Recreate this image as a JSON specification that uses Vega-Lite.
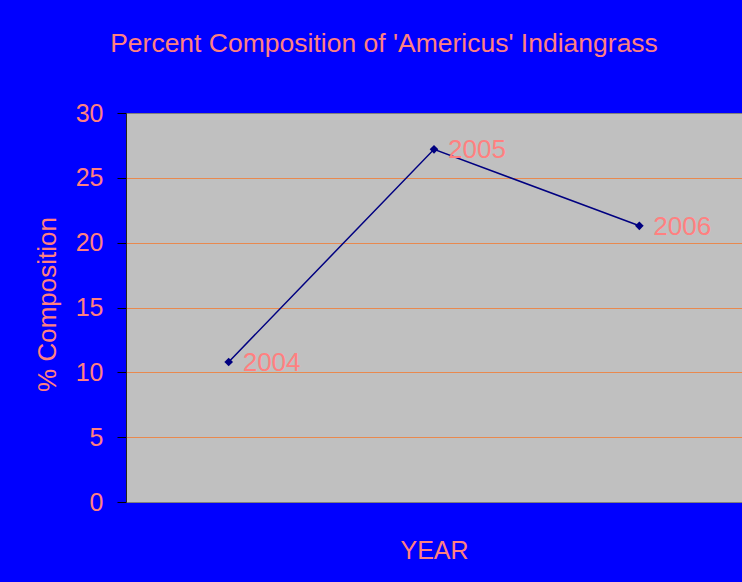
{
  "$schema": "https://vega.github.io/schema/vega-lite/v6.json",
  "autosize": {"type": "none"},
  "width": 616,
  "height": 389,
  "padding": {"left": 126, "top": 113, "right": 0, "bottom": 80},
  "background": "#0000FF",
  "title": {
    "text": "Percent Composition of 'Americus' Indiangrass",
    "font": "Liberation Sans",
    "fontSize": 26.5,
    "fontWeight": "normal",
    "color": "#FF8080",
    "anchor": "middle",
    "frame": "group",
    "baseline": "alphabetic",
    "offset": 23,
    "dx": -50
  },
  "config": {
    "view": {"fill": "#C0C0C0", "stroke": "#808080", "strokeWidth": 1},
    "axis": {
      "labelFont": "Liberation Sans",
      "titleFont": "Liberation Sans",
      "labelColor": "#FF8080",
      "titleColor": "#FF8080",
      "titleFontWeight": "normal"
    }
  },
  "data": {
    "values": [
      {"year": "2004", "composition": 10.8},
      {"year": "2005", "composition": 27.2},
      {"year": "2006", "composition": 21.3}
    ]
  },
  "encoding": {
    "x": {
      "field": "year",
      "type": "ordinal",
      "scale": {"type": "point", "padding": 0.5},
      "axis": {
        "title": "YEAR",
        "labels": false,
        "ticks": false,
        "domain": false,
        "grid": false,
        "titleFontSize": 25,
        "titleBaseline": "alphabetic",
        "titleX": 308,
        "titleY": 56,
        "titleAlign": "center"
      }
    },
    "y": {
      "field": "composition",
      "type": "quantitative",
      "scale": {"domain": [0, 30], "nice": false, "zero": true},
      "axis": {
        "title": "% Composition",
        "values": [0, 5, 10, 15, 20, 25, 30],
        "labelFontSize": 25,
        "labelPadding": 14,
        "labelBaseline": "middle",
        "tickSize": 9,
        "tickColor": "#000000",
        "tickWidth": 1,
        "domainColor": "#222222",
        "domainWidth": 1,
        "grid": true,
        "gridColor": {"condition": {"test": "datum.value == 0 || datum.value == 30", "value": "#808080"}, "value": "#E8894F"},
        "gridWidth": 1,
        "gridOpacity": 1,
        "titleFontSize": 26,
        "titleAngle": -90,
        "titleBaseline": "alphabetic",
        "titleAlign": "center",
        "titleX": -71,
        "titleY": 191
      }
    }
  },
  "layer": [
    {
      "mark": {"type": "line", "color": "#000080", "strokeWidth": 1.5}
    },
    {
      "mark": {"type": "point", "shape": "diamond", "filled": true, "color": "#000080", "size": 75, "opacity": 1}
    },
    {
      "mark": {"type": "text", "align": "left", "baseline": "middle", "dx": 14, "dy": 1, "font": "Liberation Sans", "fontSize": 26, "color": "#FF8080"},
      "encoding": {"text": {"field": "year"}}
    }
  ]
}
